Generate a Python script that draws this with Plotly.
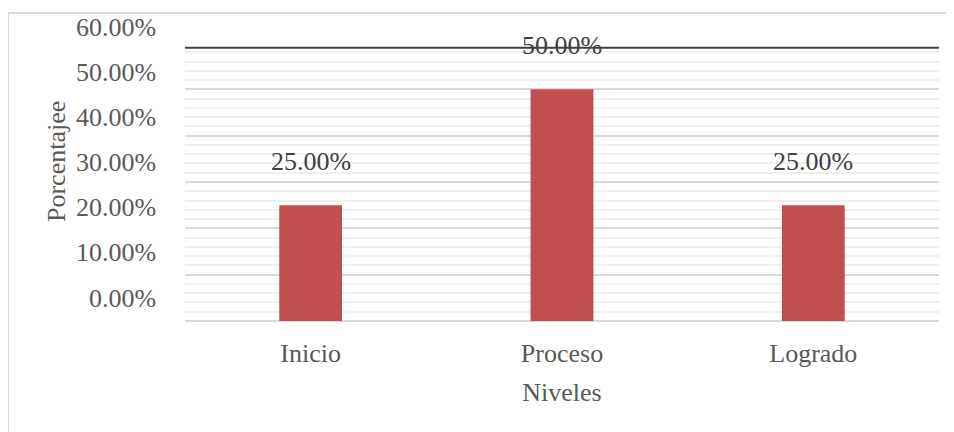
import plotly.graph_objects as go

categories = ["Inicio", "Proceso", "Logrado"]
values = [0.25, 0.50, 0.25]
tick_vals = [0, 0.1, 0.2, 0.3, 0.4, 0.5, 0.6]
tick_text = ["0.00%", "10.00%", "20.00%", "30.00%", "40.00%", "50.00%", "60.00%"]
ref_line = 0.59

W, H = 954, 432
L, R, T, B = 177, 23, 35, 119
FS = 26
pw, ph = W - L - R, H - T - B

fig = go.Figure()
fig.add_trace(go.Bar(
    x=categories, y=values, marker_color="#C0504D", width=0.25,
    marker_line_width=0, hoverinfo="skip",
))

# data labels
for c, v in zip(categories, values):
    fig.add_annotation(x=c, y=v, text=f"{v*100:.2f}%", showarrow=False,
                       yshift=44, font=dict(family="Liberation Serif", size=FS, color="#404040"))

# y tick labels (drawn offset above their gridlines, as in the reference)
for tv, tt in zip(tick_vals, tick_text):
    fig.add_annotation(xref="paper", yref="y", x=0, y=tv, text=tt, showarrow=False,
                       xanchor="right", yanchor="middle", xshift=-27,
                       yshift=23 - 7 * tv / 0.6,
                       font=dict(family="Liberation Serif", size=FS, color="#595959"))

fig.add_shape(type="line", xref="paper", yref="y", x0=0, x1=1, y0=ref_line, y1=ref_line,
              line=dict(color="#404040", width=2))

fig.add_shape(type="rect", xref="paper", yref="paper",
              x0=(0 - L) / pw, x1=(W + 5 - L) / pw,
              y0=1 - (H + 5 - T) / ph, y1=1 - (5 - T) / ph,
              line=dict(color="#D9D9D9", width=2), fillcolor="rgba(0,0,0,0)", layer="below")

# y axis title
fig.add_annotation(xref="paper", yref="paper", x=(48 - L) / pw, y=1 - (154 - T) / ph,
                   xanchor="center", yanchor="middle",
                   text="Porcentajee", textangle=-90, showarrow=False,
                   font=dict(family="Liberation Serif", size=FS, color="#595959"))

fig.update_layout(
    width=W, height=H, margin=dict(l=L, r=R, t=T, b=B, autoexpand=False),
    paper_bgcolor="white", plot_bgcolor="white", showlegend=False,
    font=dict(family="Liberation Serif", size=FS, color="#595959"),
)
fig.update_xaxes(
    showgrid=False, showline=False, zeroline=False, ticks="", automargin=False,
    tickfont=dict(size=FS, color="#595959"), ticklabelstandoff=14,
    title=dict(text="Niveles", font=dict(size=FS, color="#595959"), standoff=15),
)
fig.update_yaxes(
    range=[0, 0.6], tickvals=tick_vals, ticktext=tick_text, automargin=False,
    showticklabels=False,
    showgrid=True, gridcolor="#D9D9D9", gridwidth=1.5,
    minor=dict(dtick=0.02, showgrid=True, gridcolor="#F0F0F0", gridwidth=1.5),
    zeroline=True, zerolinecolor="#D9D9D9", zerolinewidth=2,
    showline=False, ticks="",
)

fig.write_html("out.html")
